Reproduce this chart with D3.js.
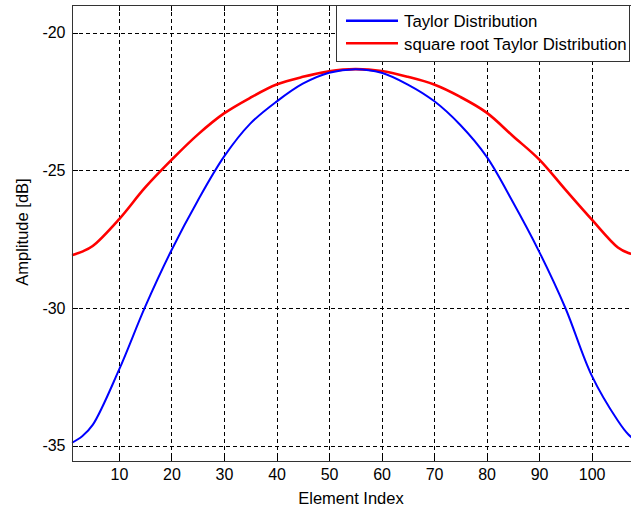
<!DOCTYPE html>
<html>
<head>
<meta charset="utf-8">
<script src="https://cdn.jsdelivr.net/npm/d3@7"></script>
<style>
html,body{margin:0;padding:0;background:#fff;overflow:hidden;}
svg{display:block;}
text{font-family:"Liberation Sans",Arial,sans-serif;fill:#000;}
</style>
</head>
<body>
<svg id="chart" width="631" height="508"></svg>
<script>
// Data
const elementIndex = [1, 3, 5, 10, 15, 20, 25, 30, 35, 40, 45, 50, 55, 60, 65, 70, 75, 80, 85, 90, 95, 100, 105, 107, 109];
const taylorDb = [-34.9, -34.66, -34.25, -32.25, -29.95, -27.9, -26.1, -24.5, -23.3, -22.5, -21.85, -21.45, -21.32,
                  -21.45, -21.88, -22.48, -23.35, -24.5, -26.15, -27.95, -30.0, -32.45, -34.1, -34.6, -34.9];
const sqrtTaylorDb = [-28.08, -27.95, -27.75, -26.78, -25.62, -24.62, -23.7, -22.93, -22.36, -21.88, -21.6, -21.4, -21.32,
                      -21.39, -21.6, -21.88, -22.33, -22.9, -23.75, -24.6, -25.7, -26.78, -27.8, -28.0, -28.08];
const xTicks = [10, 20, 30, 40, 50, 60, 70, 80, 90, 100];
const yTicks = [-35, -30, -25, -20];
const seriesNames = ["Taylor Distribution", "square root Taylor Distribution"];
const seriesColors = ["#0000ff", "#ff0000"];

const svg = d3.select("#chart");
const pLeft = 71.7, pRight = 638.9, pTop = 5.3, pBottom = 460.7;
const x = d3.scaleLinear().domain([1, 109]).range([pLeft, pRight]);
const y = d3.scaleLinear().domain([-35.55, -19]).range([pBottom, pTop]);

const tickFont = "16px";
const labelFont = "16.5px";
const legendFont = "16.8px";

// grid
const grid = svg.append("g").attr("shape-rendering", "crispEdges");
grid.selectAll("line.vx").data(xTicks).enter().append("line")
  .attr("x1", d => Math.round(x(d)) + 0.5).attr("x2", d => Math.round(x(d)) + 0.5)
  .attr("y1", pTop).attr("y2", pBottom)
  .attr("stroke", "#000").attr("stroke-width", 1).attr("stroke-dasharray", "4,3");
grid.selectAll("line.hy").data(yTicks).enter().append("line")
  .attr("y1", d => Math.round(y(d)) + 0.5).attr("y2", d => Math.round(y(d)) + 0.5)
  .attr("x1", pLeft).attr("x2", pRight)
  .attr("stroke", "#000").attr("stroke-width", 1).attr("stroke-dasharray", "4,3");

// series
const data = [taylorDb, sqrtTaylorDb];
const line = d3.line().x((d, i) => x(elementIndex[i])).y(d => y(d)).curve(d3.curveCatmullRom.alpha(0.5));
svg.append("defs").append("clipPath").attr("id", "clip")
  .append("rect").attr("x", pLeft).attr("y", pTop).attr("width", pRight - pLeft).attr("height", pBottom - pTop);
const widths = [2, 2.6];
svg.append("g").attr("clip-path", "url(#clip)").selectAll("path").data([1, 0]).enter().append("path")
  .attr("d", k => line(data[k]))
  .attr("fill", "none")
  .attr("stroke", k => seriesColors[k])
  .attr("stroke-width", k => widths[k]);

// axes
const xAxis = d3.axisBottom(x).tickValues(xTicks).tickSize(-5).tickPadding(7).tickFormat(d3.format("d"));
const gx = svg.append("g").attr("transform", `translate(0,${Math.round(pBottom) + 0.5})`).call(xAxis);
const yAxis = d3.axisLeft(y).tickValues(yTicks).tickSize(-5).tickPadding(7).tickFormat(d3.format("d"));
const gy = svg.append("g").attr("transform", `translate(${Math.round(pLeft) + 0.5},0)`).call(yAxis);
[gx, gy].forEach(g => {
  g.select(".domain").remove();
  g.selectAll(".tick line").attr("stroke", "#000").attr("shape-rendering", "crispEdges");
  g.selectAll("text").style("font-size", tickFont).style("font-family", '"Liberation Sans",Arial,sans-serif').attr("fill", "#000");
});
gy.selectAll(".tick text").text(d => "-" + Math.abs(d));
gx.selectAll(".tick text").attr("dy", "0.71em");

// top ticks
const topTicks = svg.append("g").attr("shape-rendering", "crispEdges");
topTicks.selectAll("line").data(xTicks).enter().append("line")
  .attr("x1", d => Math.round(x(d)) + 0.5).attr("x2", d => Math.round(x(d)) + 0.5)
  .attr("y1", Math.round(pTop) + 0.5).attr("y2", Math.round(pTop) + 5.5).attr("stroke", "#000");

// box
svg.append("rect")
  .attr("x", Math.round(pLeft) + 0.5).attr("y", Math.round(pTop) + 0.5)
  .attr("width", Math.round(pRight) - Math.round(pLeft)).attr("height", Math.round(pBottom) - Math.round(pTop))
  .attr("fill", "none").attr("stroke", "#333").attr("stroke-width", 1.2).attr("shape-rendering", "crispEdges");

// axis labels
svg.append("text").attr("x", 351).attr("y", 503.5).attr("text-anchor", "middle")
  .style("font-size", labelFont).text("Element Index");
svg.append("text").attr("transform", "translate(27.5,232) rotate(-90)").attr("text-anchor", "middle")
  .style("font-size", labelFont).text("Amplitude [dB]");

// legend
const lg = svg.append("g");
lg.append("rect").attr("x", 336.5).attr("y", 5.5).attr("width", 293).attr("height", 56)
  .attr("fill", "#fff").attr("stroke", "#333").attr("stroke-width", 1.2).attr("shape-rendering", "crispEdges");
const legendY = [20.7, 43.3];
seriesNames.forEach((name, i) => {
  lg.append("line").attr("x1", 346).attr("x2", 398).attr("y1", legendY[i]).attr("y2", legendY[i])
    .attr("stroke", seriesColors[i]).attr("stroke-width", 2.5);
  lg.append("text").attr("x", 404).attr("y", legendY[i] + 6.5).style("font-size", legendFont).text(name);
});
</script>
</body>
</html>
